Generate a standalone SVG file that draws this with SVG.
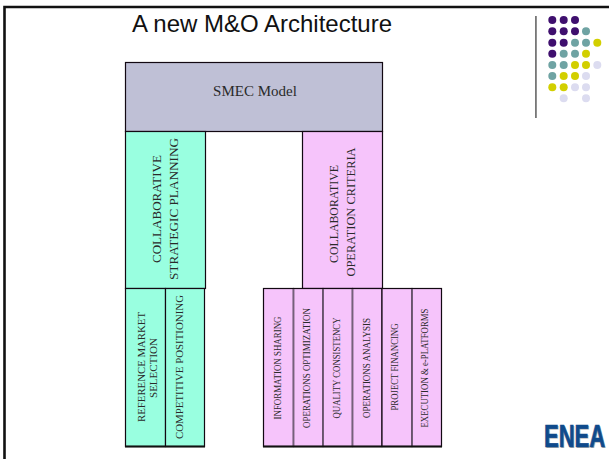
<svg xmlns="http://www.w3.org/2000/svg" width="609" height="459" viewBox="0 0 609 459">
<style>
.box{stroke:#120812;stroke-width:1.2}
.teal{fill:#99ffe0}.pink{fill:#f6c4fb}.grey{fill:#bfc0d6}
.t{font-family:"Liberation Serif",serif;fill:#2a2a2a;text-anchor:middle}
.big{font-size:11.5px}.sm{font-size:9.5px}.md{font-size:10px}
.p{fill:#3f0f6e}.c{fill:#6fa3a3}.y{fill:#d2cf00}.l{fill:#dcdcf0}
.div{stroke:#75607a;stroke-width:1.6;fill:none}
.logo{font-family:"Liberation Sans",sans-serif;font-weight:700;font-size:22px}
</style>
<rect width="609" height="459" fill="#fff"/>
<g id="frame" fill="none" stroke="#111"><path d="M4.5 459V7H609" stroke-width="2.6"/></g>
<text x="262" y="32" font-family="Liberation Sans, sans-serif" font-size="24" fill="#111" text-anchor="middle">A new M&amp;O Architecture</text>
<g id="decor"><rect x="535" y="16" width="1.8" height="102" fill="#777"/>
<g>
<circle class="p" cx="552.3" cy="20" r="4"/><circle class="p" cx="563.7" cy="20" r="4"/><circle class="p" cx="575" cy="20" r="4"/>
<circle class="p" cx="552.3" cy="31.3" r="4"/><circle class="p" cx="563.7" cy="31.3" r="4"/><circle class="p" cx="575" cy="31.3" r="4"/><circle class="c" cx="586" cy="31.3" r="4"/>
<circle class="p" cx="552.3" cy="42.7" r="4"/><circle class="p" cx="563.7" cy="42.7" r="4"/><circle class="c" cx="575" cy="42.7" r="4"/><circle class="c" cx="586" cy="42.7" r="4"/><circle class="y" cx="597.3" cy="42.7" r="4"/>
<circle class="p" cx="552.3" cy="53.7" r="4"/><circle class="c" cx="563.7" cy="53.7" r="4"/><circle class="c" cx="575" cy="53.7" r="4"/><circle class="y" cx="586" cy="53.7" r="4"/>
<circle class="c" cx="552.3" cy="65" r="4"/><circle class="c" cx="563.7" cy="65" r="4"/><circle class="y" cx="575" cy="65" r="4"/><circle class="y" cx="586" cy="65" r="4"/><circle class="l" cx="597.3" cy="65" r="4"/>
<circle class="c" cx="552.3" cy="76" r="4"/><circle class="y" cx="563.7" cy="76" r="4"/><circle class="y" cx="575" cy="76" r="4"/><circle class="l" cx="586" cy="76" r="4"/>
<circle class="y" cx="552.3" cy="87.3" r="4"/><circle class="y" cx="563.7" cy="87.3" r="4"/><circle class="l" cx="575" cy="87.3" r="4"/><circle class="l" cx="586" cy="87.3" r="4"/>
<circle class="l" cx="563.7" cy="98.3" r="4"/><circle class="l" cx="586" cy="98.3" r="4"/>
</g></g>
<g id="smec"><rect class="box grey" x="125.5" y="62.5" width="257" height="69"/><text class="t" x="255" y="96" font-size="15">SMEC Model</text></g>
<g id="strategic"><rect class="box teal" x="125.5" y="131.5" width="80" height="157"/>
<text class="t big" transform="translate(161,209) rotate(-90)" textLength="108" lengthAdjust="spacingAndGlyphs">COLLABORATIVE</text>
<text class="t big" transform="translate(178,209) rotate(-90)" textLength="142" lengthAdjust="spacingAndGlyphs">STRATEGIC PLANNING</text></g>
<g id="operation"><rect class="box pink" x="302.5" y="131.5" width="80" height="157"/>
<text class="t big" transform="translate(338,214) rotate(-90)" textLength="98" lengthAdjust="spacingAndGlyphs">COLLABORATIVE</text>
<text class="t big" transform="translate(355,212) rotate(-90)" textLength="129" lengthAdjust="spacingAndGlyphs">OPERATION CRITERIA</text></g>
<g id="reference"><rect class="box teal" x="125.5" y="288.5" width="40" height="158"/>
<text class="t md" transform="translate(145,367) rotate(-90)" textLength="110" lengthAdjust="spacingAndGlyphs">REFERENCE MARKET</text>
<text class="t md" transform="translate(157,368) rotate(-90)" textLength="60" lengthAdjust="spacingAndGlyphs">SELECTION</text></g>
<g id="competitive"><rect class="box teal" x="165.5" y="288.5" width="39" height="158"/>
<text class="t md" transform="translate(183,367) rotate(-90)" textLength="144" lengthAdjust="spacingAndGlyphs">COMPETITIVE POSITIONING</text></g>
<g id="n1"><rect class="box pink" x="263.5" y="288.5" width="30" height="158"/><text class="t sm" transform="translate(281,368) rotate(-90)" textLength="103" lengthAdjust="spacingAndGlyphs">INFORMATION SHARING</text></g>
<g id="n2"><rect class="box pink" x="293.5" y="288.5" width="29.5" height="158"/><text class="t sm" transform="translate(310,368) rotate(-90)" textLength="120" lengthAdjust="spacingAndGlyphs">OPERATIONS OPTIMIZATION</text></g>
<g id="n3"><rect class="box pink" x="323" y="288.5" width="29.5" height="158"/><text class="t sm" transform="translate(340,368) rotate(-90)" textLength="101" lengthAdjust="spacingAndGlyphs">QUALITY CONSISTENCY</text></g>
<g id="n4"><rect class="box pink" x="352.5" y="288.5" width="29.5" height="158"/><text class="t sm" transform="translate(370,368) rotate(-90)" textLength="100" lengthAdjust="spacingAndGlyphs">OPERATIONS ANALYSIS</text></g>
<g id="n5"><rect class="box pink" x="382" y="288.5" width="30" height="158"/><text class="t sm" transform="translate(398,367) rotate(-90)" textLength="87" lengthAdjust="spacingAndGlyphs">PROJECT FINANCING</text></g>
<g id="n6"><rect class="box pink" x="412" y="288.5" width="29.5" height="158"/><text class="t sm" transform="translate(428,368) rotate(-90)" textLength="119" lengthAdjust="spacingAndGlyphs">EXECUTION &amp; e-PLATFORMS</text></g>
<g id="connectors" class="div"><path d="M293.5 289V446M323 289V446M352.5 289V446M412 289V446"/></g>
<g id="bottoms" stroke="#111" stroke-width="2" fill="none"><path d="M125 446.5H205M263 446.5H442"/></g>
<g id="logo"><text class="logo" transform="translate(545,448) scale(1,1.45)" fill="#aaa">ENEA</text>
<text class="logo" transform="translate(544,447) scale(1,1.45)" fill="#0f4a8c" stroke="#0f4a8c" stroke-width="0.5">ENEA</text></g>
</svg>
